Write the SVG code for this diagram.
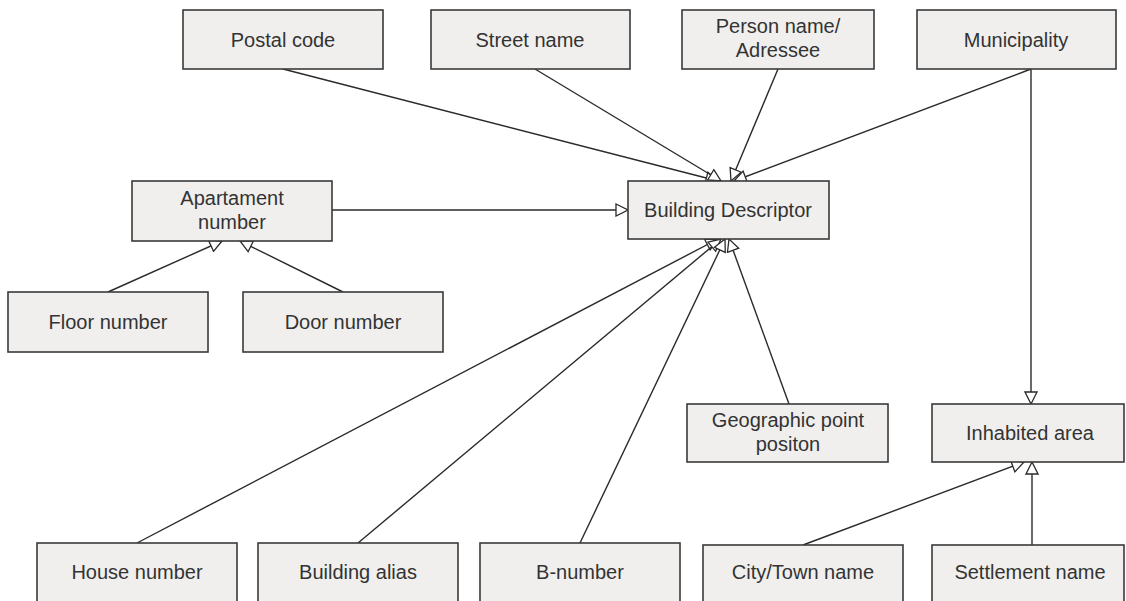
<svg xmlns="http://www.w3.org/2000/svg" width="1126" height="601" viewBox="0 0 1126 601">
<style>
.box{fill:#f0efee;stroke:#3a3a3a;stroke-width:1.6}
.sh{fill:#c8c8c8}
.t{font-family:"Liberation Sans",Arial,sans-serif;font-size:20px;fill:#333;text-anchor:middle}
.c{stroke:#2a2a2a;stroke-width:1.4;fill:none;marker-end:url(#tri)}
</style>
<defs>
<marker id="tri" viewBox="0 0 14 14" refX="13" refY="7" markerWidth="14" markerHeight="14" markerUnits="userSpaceOnUse" orient="auto">
<path d="M1,1 L13,7 L1,13 Z" fill="#fff" stroke="#2a2a2a" stroke-width="1.3"/>
</marker>
</defs>
<rect width="1126" height="601" fill="#fff"/>
<g id="connectors">
<line class="c" x1="283" y1="69" x2="718" y2="181"/>
<line class="c" x1="535" y1="69" x2="721" y2="181"/>
<line class="c" x1="778" y1="69" x2="731" y2="181"/>
<line class="c" x1="1031" y1="69" x2="734" y2="181"/>
<polyline class="c" points="1031,69 1031,404"/>
<line class="c" x1="332" y1="210" x2="628" y2="210"/>
<line class="c" x1="108" y1="292" x2="222" y2="241"/>
<line class="c" x1="343" y1="292" x2="240" y2="241"/>
<line class="c" x1="137" y1="543" x2="718" y2="239"/>
<line class="c" x1="358" y1="543" x2="721" y2="239"/>
<line class="c" x1="580" y1="543" x2="725" y2="239"/>
<line class="c" x1="789" y1="404" x2="729" y2="239"/>
<line class="c" x1="803" y1="545" x2="1024" y2="462"/>
<line class="c" x1="1032" y1="545" x2="1032" y2="462"/>
</g>
<g id="postal"><rect class="box" x="183" y="10" width="200" height="59"/><text class="t" x="283" y="47">Postal code</text></g>
<g id="street"><rect class="box" x="431" y="10" width="199" height="59"/><text class="t" x="530" y="47">Street name</text></g>
<g id="person"><rect class="box" x="682" y="10" width="192" height="59"/><text class="t" x="778" y="33">Person name/</text><text class="t" x="778" y="57">Adressee</text></g>
<g id="municipality"><rect class="box" x="917" y="10" width="199" height="59"/><text class="t" x="1016" y="47">Municipality</text></g>
<g id="building"><rect class="box" x="628" y="181" width="201" height="58"/><text class="t" x="728" y="217">Building Descriptor</text></g>
<g id="apartment"><rect class="box" x="132" y="181" width="200" height="60"/><text class="t" x="232" y="205">Apartament</text><text class="t" x="232" y="229">number</text></g>
<g id="floor"><rect class="box" x="8" y="292" width="200" height="60"/><text class="t" x="108" y="329">Floor number</text></g>
<g id="door"><rect class="box" x="243" y="292" width="200" height="60"/><text class="t" x="343" y="329">Door number</text></g>
<g id="geo"><rect class="box" x="687" y="404" width="201" height="58"/><text class="t" x="788" y="427">Geographic point</text><text class="t" x="788" y="451">positon</text></g>
<g id="inhabited"><rect class="box" x="932" y="404" width="192" height="58"/><text class="t" x="1030" y="440">Inhabited area</text></g>
<g id="house"><rect class="box" x="37" y="543" width="200" height="60"/><text class="t" x="137" y="579">House number</text></g>
<g id="alias"><rect class="box" x="258" y="543" width="200" height="60"/><text class="t" x="358" y="579">Building alias</text></g>
<g id="bnumber"><rect class="box" x="480" y="543" width="200" height="60"/><text class="t" x="580" y="579">B-number</text></g>
<g id="city"><rect class="box" x="703" y="545" width="200" height="60"/><text class="t" x="803" y="579">City/Town name</text></g>
<g id="settlement"><rect class="box" x="932" y="545" width="192" height="60"/><text class="t" x="1030" y="579">Settlement name</text></g>
</svg>
